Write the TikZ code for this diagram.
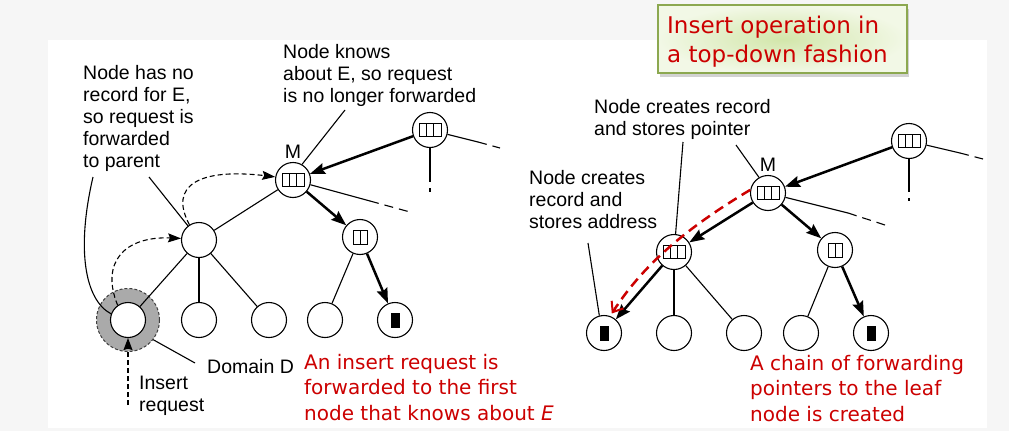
\documentclass[tikz,border=0pt]{standalone}
\usepackage{fontspec}
\setmainfont{Liberation Sans}
\newfontfamily\comic{DejaVu Sans}
\usetikzlibrary{arrows.meta,shadows,calc}
\definecolor{redtxt}{RGB}{204,0,0}
\definecolor{boxborder}{RGB}{140,168,80}
\definecolor{boxmid}{RGB}{210,230,170}
\definecolor{boxedge}{RGB}{242,248,230}
\definecolor{ringgray}{RGB}{170,170,170}
\definecolor{bgtex}{RGB}{246,246,246}
\tikzset{
  cellthree/.pic={\draw[line width=1pt] (-11,-6.5) rectangle (11,6.5) (-3.67,-6.5)--(-3.67,6.5) (3.67,-6.5)--(3.67,6.5);},
  celltwo/.pic={\draw[line width=1pt] (-7,-7) rectangle (7,7) (0,-7)--(0,7);},
  leafblock/.pic={\fill (-4.5,-7.5) rectangle (4.5,7.5);}
}
\begin{document}
\begin{tikzpicture}[x=1pt,y=-1pt,
  tn/.style={circle,draw,line width=1.1pt,minimum size=35pt,inner sep=0pt,fill=white},
  thinl/.style={line width=1.1pt},
  tail/.style={line width=1.1pt,dash pattern=on 9pt off 6pt},
  thickarr/.style={line width=2.5pt,-{Stealth[length=15pt,width=11pt,inset=2pt]}},
  dasharr/.style={line width=1.1pt,dash pattern=on 5pt off 3pt,-{Stealth[length=13pt,width=9pt,inset=2pt]}},
  lbl/.style={font=\fontsize{19.5}{22}\selectfont,align=left,inner sep=0pt,anchor=base west},
  mlbl/.style={font=\fontsize{19.5}{22}\selectfont,inner sep=0pt,anchor=base},
  rtxt/.style={font=\comic\fontsize{20}{25.5}\selectfont,text=redtxt,align=left,inner sep=0pt,anchor=base west},
]
\useasboundingbox (0,0) rectangle (1009,431);
\fill[bgtex] (0,0) rectangle (1009,431);
\fill[white] (48,40) rectangle (987,428);

% title box
\node[draw=boxborder,line width=1.2pt,inner color=boxmid,outer color=boxedge,
      minimum width=249pt,minimum height=68pt,inner sep=0pt,
      drop shadow={shadow xshift=2pt,shadow yshift=-4pt,opacity=0.35}] (titlebox) at (782.5,39) {};
\node[font=\comic\fontsize{23}{29}\selectfont,text=redtxt,align=left,inner sep=0pt,anchor=base west] (titletxt) at (667,62) {Insert operation in\\a top-down fashion};

% ---------------- left tree ----------------
\node[circle,draw=black!75,dash pattern=on 3pt off 2pt,line width=1pt,fill=ringgray,minimum size=63pt,inner sep=0pt] (dom) at (128,320) {};
\node[tn] (lTR) at (430,130) {};
\node[tn] (lM) at (293,180) {};
\node[tn] (lLM) at (199,240) {};
\node[tn] (lRM) at (360,237) {};
\node[tn] (lL1) at (128,320) {};
\node[tn] (lL2) at (199,320) {};
\node[tn] (lL3) at (269,320) {};
\node[tn] (lL4) at (325,320) {};
\node[tn] (lL5) at (395,320) {};
\pic at (lTR) {cellthree};
\pic at (lM) {cellthree};
\pic at (lRM) {celltwo};
\pic at (lL5) {leafblock};

\coordinate (ltrA) at (478,142);
\coordinate (ltrB) at (500,148);
\coordinate (ltdA) at (430,173);
\coordinate (ltdB) at (430,192);
\coordinate (lmrA) at (370,201);
\coordinate (lmrB) at (410,212);
\draw[thinl] (lTR) -- (ltrA);
\draw[tail] (ltrA) -- (ltrB);
\draw[thinl] (lTR) -- (ltdA);
\draw[tail] (ltdA) -- (ltdB);
\draw[thinl] (lM) -- (lmrA);
\draw[tail] (lmrA) -- (lmrB);

\draw[thickarr] (lTR) -- (lM);
\draw[thinl] (lM) -- (lLM);
\draw[thickarr] (lM) -- (lRM);
\draw[thinl] (lLM) -- (lL1);
\draw[thinl] (lLM) -- (lL2);
\draw[thinl] (lLM) -- (lL3);
\draw[thinl] (lRM) -- (lL4);
\draw[thickarr] (lRM) -- (lL5);

\draw[dasharr] (lL1.125) .. controls (100,262) and (125,236) .. (lLM.175);
\draw[dasharr] (lLM.122) .. controls (168,185) and (200,168) .. (lM.170);

% callouts left
\coordinate (cA) at (93,177);
\coordinate (cB) at (149,177);
\coordinate (cC) at (345,110);
\coordinate (cD) at (195,363);
\coordinate (ins) at (128,405);
\draw[thinl] (cA) .. controls (76,250) and (85,300) .. (lL1.160);
\draw[thinl] (cB) -- (lLM.128);
\draw[thinl] (cC) -- (lM.60);
\draw[thinl] (dom.-38) -- (cD);
\draw[line width=1.1pt,dash pattern=on 5pt off 3pt,-{Stealth[length=12pt,width=9pt,inset=1.5pt]}] (ins) -- (lL1);

\node[lbl] (t1) at (83,167) {Node has no\\record for E,\\so request is\\forwarded\\to parent};
\node[lbl] (t2) at (283,102) {Node knows\\about E, so request\\is no longer forwarded};
\node[mlbl] (lMl) at (293,158) {M};
\node[lbl] (t3) at (207,373) {Domain D};
\node[lbl] (t4) at (139,411) {Insert\\request};
\node[rtxt] (t5) at (304,420) {An insert request is\\forwarded to the first\\node that knows about \textit{E}};

% ---------------- right tree ----------------
\node[tn] (rTR) at (909,141) {};
\node[tn] (rM) at (768,193) {};
\node[tn] (rLM) at (674,252) {};
\node[tn] (rRM) at (835,250) {};
\node[tn] (rL1) at (604,333) {};
\node[tn] (rL2) at (674,333) {};
\node[tn] (rL3) at (744,333) {};
\node[tn] (rL4) at (801,333) {};
\node[tn] (rL5) at (871,333) {};
\pic at (rTR) {cellthree};
\pic at (rM) {cellthree};
\pic at (rLM) {cellthree};
\pic at (rRM) {celltwo};
\pic at (rL1) {leafblock};
\pic at (rL5) {leafblock};

\coordinate (rtrA) at (960,153);
\coordinate (rtrB) at (983,159);
\coordinate (rtdA) at (909,183);
\coordinate (rtdB) at (909,201);
\coordinate (rmrA) at (848,213);
\coordinate (rmrB) at (885,225);
\draw[thinl] (rTR) -- (rtrA);
\draw[tail] (rtrA) -- (rtrB);
\draw[thinl] (rTR) -- (rtdA);
\draw[tail] (rtdA) -- (rtdB);
\draw[thinl] (rM) -- (rmrA);
\draw[tail] (rmrA) -- (rmrB);

\draw[thickarr] (rTR) -- (rM);
\draw[thickarr] (rM) -- (rLM);
\draw[thickarr] (rM) -- (rRM);
\draw[thickarr] (rLM) -- (rL1);
\draw[thinl] (rLM) -- (rL2);
\draw[thinl] (rLM) -- (rL3);
\draw[thinl] (rRM) -- (rL4);
\draw[thickarr] (rRM) -- (rL5);

% callouts right
\coordinate (cE) at (683,142);
\coordinate (cF) at (736,145);
\coordinate (cG) at (588,243);
\draw[thinl] (cE) -- (rLM.85);
\draw[thinl] (cF) -- (rM.120);
\draw[thinl] (cG) -- (rL1.105);

\draw[redtxt,line width=2.5pt,dash pattern=on 10pt off 6pt,shorten >=3pt,
      -{Straight Barb[length=9pt,width=14pt,line width=2pt]}]
      (rM.170) .. controls (690,226) and (645,262) .. (rL1.70);

\node[lbl] (t6) at (594,135) {Node creates record\\and stores pointer};
\node[lbl] (t7) at (529,228) {Node creates\\record and\\stores address};
\node[mlbl] (rMl) at (768,171) {M};
\node[rtxt] (t8) at (750,421) {A chain of forwarding\\pointers to the leaf\\node is created};
\end{tikzpicture}
\end{document}
